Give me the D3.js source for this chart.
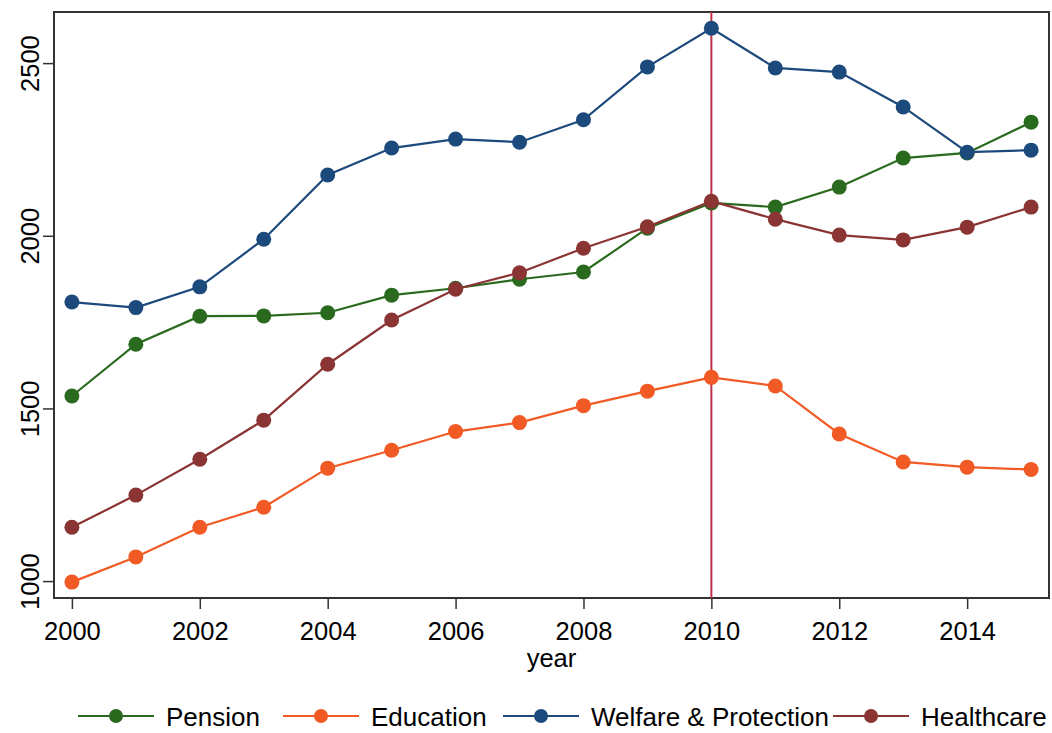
<!DOCTYPE html>
<html>
<head>
<meta charset="utf-8">
<script src="https://cdn.jsdelivr.net/npm/d3@7"></script>
<style>
  body { margin: 0; background: #fff; }
  svg text { font-family: "Liberation Sans", Arial, Helvetica, sans-serif; fill: #000; }
</style>
</head>
<body>
<svg id="chart"></svg>
<script>
const years = d3.range(2000, 2016)
const pension = [1536, 1686, 1767, 1768, 1777, 1828, 1848, 1874, 1895, 2022, 2095, 2083, 2141, 2225, 2240, 2329]
const education = [997, 1070, 1156, 1214, 1327, 1379, 1433, 1459, 1508, 1550, 1590, 1565, 1426, 1345, 1330, 1323]
const welfare = [1808, 1792, 1852, 1990, 2176, 2254, 2280, 2271, 2336, 2489, 2601, 2486, 2474, 2373, 2242, 2248]
const healthcare = [1156, 1249, 1353, 1466, 1628, 1756, 1845, 1893, 1964, 2026, 2100, 2048, 2002, 1988, 2025, 2083]
const seriesNames = ['Pension', 'Education', 'Welfare & Protection', 'Healthcare']
const seriesColors = ['#2a6a1f', '#f15a24', '#1d4a7c', '#8a3434']
const xTicks = [2000, 2002, 2004, 2006, 2008, 2010, 2012, 2014]
const yTicks = [1000, 1500, 2000, 2500]
const markYear = 2010

const width = 1052
const height = 733
const plot = { left: 54, right: 1049, top: 12, bottom: 598 }

const svg = d3.select('#chart')
  .attr('width', width)
  .attr('height', height)

const xScale = d3.scaleLinear()
  .domain([1999.72, 2015.28])
  .range([plot.left, plot.right])

const yScale = d3.scaleLinear()
  .domain([951, 2648])
  .range([plot.bottom, plot.top])

// Frame
svg.append('rect')
  .attr('x', plot.left)
  .attr('y', plot.top)
  .attr('width', plot.right - plot.left)
  .attr('height', plot.bottom - plot.top)
  .attr('fill', 'none')
  .attr('stroke', '#333')
  .attr('stroke-width', 2)

// Axes
const xAxis = svg.append('g')
  .attr('transform', `translate(0,${plot.bottom})`)
  .call(d3.axisBottom(xScale).tickValues(xTicks).tickFormat(d3.format('d')).tickSize(11).tickPadding(13))
xAxis.select('.domain').remove()
xAxis.selectAll('line').attr('stroke', '#333').attr('stroke-width', 1.5)
xAxis.selectAll('text').attr('font-size', '25.5px').attr('fill', '#000')

const yAxis = svg.append('g')
  .attr('transform', `translate(${plot.left},0)`)
  .call(d3.axisLeft(yScale).tickValues(yTicks).tickFormat(d3.format('d')).tickSize(11))
yAxis.select('.domain').remove()
yAxis.selectAll('line').attr('stroke', '#333').attr('stroke-width', 1.5)
yAxis.selectAll('text')
  .attr('x', null)
  .attr('dy', null)
  .attr('text-anchor', 'middle')
  .attr('transform', 'translate(-15,0) rotate(-90)')
  .attr('font-size', '25.5px')
  .attr('fill', '#000')

svg.append('text')
  .attr('x', (plot.left + plot.right) / 2)
  .attr('y', 667)
  .attr('text-anchor', 'middle')
  .attr('font-size', '25.5px')
  .text('year')

// Series
const series = [pension, education, welfare, healthcare].map((vals, i) => ({
  name: seriesNames[i],
  color: seriesColors[i],
  points: years.map((yr, j) => ({ year: yr, value: vals[j] }))
}))

const line = d3.line()
  .x(d => xScale(d.year))
  .y(d => yScale(d.value))

// Reference line at 2010
svg.append('line')
  .attr('x1', xScale(markYear))
  .attr('x2', xScale(markYear))
  .attr('y1', plot.top)
  .attr('y2', plot.bottom)
  .attr('stroke', '#c0304a')
  .attr('stroke-width', 2)

const sg = svg.selectAll('.series')
  .data(series)
  .enter().append('g')
  .attr('class', 'series')

sg.append('path')
  .attr('d', d => line(d.points))
  .attr('fill', 'none')
  .attr('stroke', d => d.color)
  .attr('stroke-width', 2.2)

sg.selectAll('circle')
  .data(d => d.points.map(p => ({ ...p, color: d.color })))
  .enter().append('circle')
  .attr('cx', d => xScale(d.year))
  .attr('cy', d => yScale(d.value))
  .attr('r', 7.5)
  .attr('fill', d => d.color)

// Legend
const legendStarts = [78, 283, 503, 833]
const legendY = 716
const lg = svg.selectAll('.legend')
  .data(series)
  .enter().append('g')
  .attr('class', 'legend')
  .attr('transform', (d, i) => `translate(${legendStarts[i]},${legendY})`)

lg.append('line')
  .attr('x1', 0)
  .attr('x2', 76)
  .attr('stroke', d => d.color)
  .attr('stroke-width', 2)

lg.append('circle')
  .attr('cx', 38)
  .attr('r', 7)
  .attr('fill', d => d.color)

lg.append('text')
  .attr('x', 88)
  .attr('y', 10)
  .attr('font-size', '26px')
  .text(d => d.name)
</script>
</body>
</html>
